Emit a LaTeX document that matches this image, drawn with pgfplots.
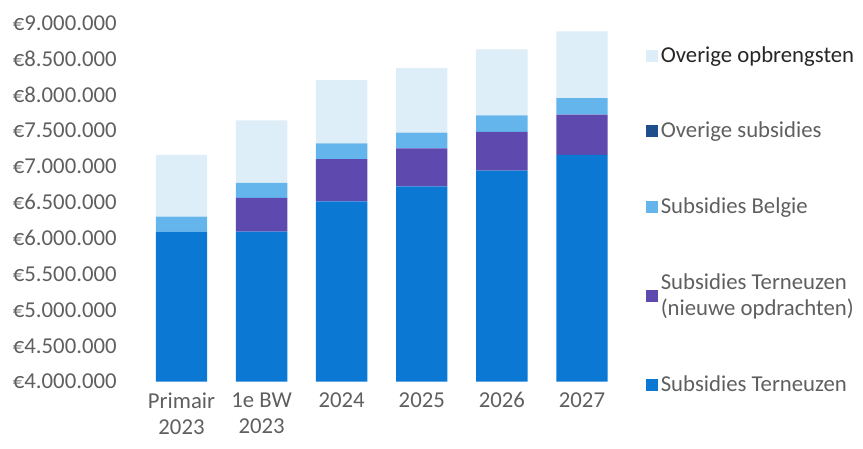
\documentclass[border=0pt]{standalone}
\usepackage{pgfplots}
\pgfplotsset{compat=1.18}
\usepackage{fontspec}
\setmainfont{Carlito}
\definecolor{tern}{HTML}{0B78D4}
\definecolor{ternnew}{HTML}{5E4AAE}
\definecolor{belg}{HTML}{64B5EC}
\definecolor{ovsub}{HTML}{1F4E8C}
\definecolor{ovopb}{HTML}{DDEEF8}
\definecolor{lbl}{HTML}{5F5F5F}
\begin{document}
\begin{tikzpicture}
\begin{axis}[
    name=ax,
    scale only axis,
    width=243pt, height=181.5pt,
    ybar stacked,
    bar width=26pt,
    xmin=-0.55, xmax=5.45,
    ymin=4000000, ymax=9000000,
    scaled y ticks=false,
    axis line style={draw=none},
    tick style={draw=none},
    font=\fontsize{11.5}{13.5}\selectfont,
    xtick={0,1,2,3,4,5},
    xticklabels={{Primair\\2023},{1e BW\\2023},2024,2025,2026,2027},
    xticklabel style={align=center, text=lbl, yshift=-2pt},
    ytick={4000000,4500000,5000000,5500000,6000000,6500000,7000000,7500000,8000000,8500000,9000000},
    yticklabels={\mbox{€4.000.000},\mbox{€4.500.000},\mbox{€5.000.000},\mbox{€5.500.000},\mbox{€6.000.000},\mbox{€6.500.000},\mbox{€7.000.000},\mbox{€7.500.000},\mbox{€8.000.000},\mbox{€8.500.000},\mbox{€9.000.000}},
    yticklabel style={text=lbl, xshift=-7pt},
    reverse legend,
    legend style={draw=none, fill=none, at={(1.045,0.955)}, anchor=north west,
        row sep=25.8pt, nodes={align=left, text=lbl, inner sep=1.5pt},
        font=\fontsize{11.5}{13.5}\selectfont},
    legend cell align=left,
    legend image code/.code={\fill[#1] (0pt,-3pt) rectangle (6pt,3pt);},
]
\addplot[fill=tern, draw=none] coordinates {(0,6090000)(1,6090000)(2,6510000)(3,6720000)(4,6940000)(5,7160000)};
\addlegendentry{Subsidies Terneuzen}
\addplot[fill=ternnew, draw=none] coordinates {(0,0)(1,470000)(2,590000)(3,530000)(4,540000)(5,560000)};
\addlegendentry{Subsidies Terneuzen\\(nieuwe opdrachten)}
\addplot[fill=belg, draw=none] coordinates {(0,210000)(1,210000)(2,220000)(3,220000)(4,230000)(5,230000)};
\addlegendentry{Subsidies Belgie}
\addplot[fill=ovsub, draw=none] coordinates {(0,0)(1,0)(2,0)(3,0)(4,0)(5,0)};
\addlegendentry{Overige subsidies}
\addplot[fill=ovopb, draw=none] coordinates {(0,860000)(1,870000)(2,880000)(3,900000)(4,920000)(5,930000)};
\addlegendentry{\textcolor{black!85}{Overige opbrengsten}}
\end{axis}
\path (ax.south west) ++(-69.5pt,-34pt) rectangle ++(431.5pt,227pt);
\end{tikzpicture}
\end{document}
